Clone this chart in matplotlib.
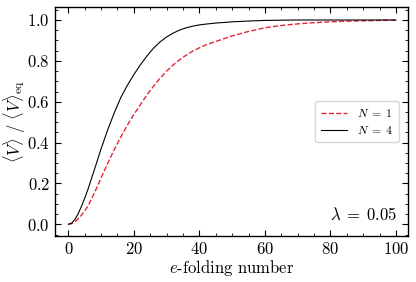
import numpy as np
import matplotlib
matplotlib.use("Agg")
import matplotlib.pyplot as plt
from matplotlib.ticker import MultipleLocator

plt.rcParams["font.family"] = "serif"
plt.rcParams["font.serif"] = ["cmr10", "DejaVu Serif"]
plt.rcParams["mathtext.fontset"] = "cm"
plt.rcParams["axes.formatter.use_mathtext"] = True

# e-folding number
efold = [0, 1, 2, 3, 4, 5, 6, 8, 10, 12, 14, 16, 18, 20, 22, 24, 26, 28, 30, 32, 34, 36, 38, 40,
         42, 45, 50, 55, 60, 65, 70, 75, 80, 85, 90, 95, 100]

# <V>/<V>_eq, lambda = 0.05
v_n1 = [0.0, 0.003, 0.012, 0.027, 0.045, 0.066, 0.09, 0.155, 0.228, 0.298, 0.365, 0.427, 0.485,
        0.537, 0.586, 0.633, 0.676, 0.715, 0.75, 0.78, 0.806, 0.828, 0.848, 0.864,
        0.878, 0.895, 0.922, 0.944, 0.962, 0.973, 0.981, 0.987, 0.991, 0.994, 0.996, 0.998, 0.999]
v_n4 = [0.0, 0.006, 0.024, 0.052, 0.088, 0.128, 0.172, 0.27, 0.37, 0.462, 0.545, 0.62, 0.68,
        0.733, 0.781, 0.824, 0.862, 0.893, 0.917, 0.936, 0.951, 0.962, 0.97, 0.976,
        0.98, 0.985, 0.991, 0.995, 0.998, 0.999, 1.0, 1.0, 1.0, 1.0, 1.0, 1.0, 1.0]

fig = plt.figure(figsize=(4.16, 2.82), dpi=100)
ax = fig.add_axes([0.132, 0.164, 0.849, 0.810])

ax.plot(efold, v_n1, "--", color="#e3263a", lw=1.0, label=r"$N\;=\;1$")
ax.plot(efold, v_n4, "-", color="black", lw=0.8, label=r"$N\;=\;4$")

ax.set_xlim(-4.1, 103.7)
ax.set_ylim(-0.056, 1.062)
ax.xaxis.set_major_locator(MultipleLocator(20))
ax.xaxis.set_minor_locator(MultipleLocator(5))
ax.yaxis.set_major_locator(MultipleLocator(0.2))
ax.yaxis.set_minor_locator(MultipleLocator(0.05))
ax.tick_params(which="both", direction="in", top=True, right=True, labelsize=12)
ax.tick_params(which="major", length=4.5, width=0.8)
ax.tick_params(which="minor", length=2.5, width=0.6)
for s in ax.spines.values():
    s.set_linewidth(1.0)

ax.set_xlabel(r"$e$-folding number", fontsize=12, labelpad=1)
ax.set_ylabel(r"$\langle V\rangle\ /\ \langle V\rangle_{\rm eq}$", fontsize=12)
ax.yaxis.set_label_coords(-0.075, 0.5)

ax.legend(loc="center right", fontsize=8.5, handlelength=2.2, borderpad=0.5, labelspacing=0.45,
          bbox_to_anchor=(0.99, 0.5))
ax.text(0.97, 0.055, r"$\lambda\;=\;0.05$", transform=ax.transAxes, ha="right", va="bottom", fontsize=12)

fig.savefig("out.png", dpi=100)
